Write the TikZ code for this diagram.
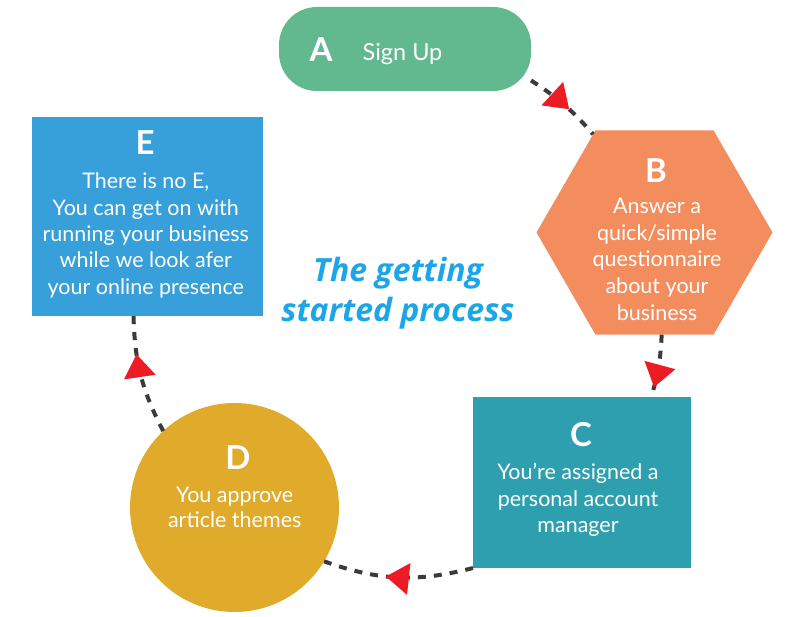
\documentclass[tikz,border=0pt]{standalone}
\usepackage{fontspec}
\setmainfont{Lato}
\newfontfamily\titlefont{Open Sans}
\usetikzlibrary{shapes.geometric,arrows.meta,decorations.markings}
\definecolor{cA}{HTML}{63B98F}
\definecolor{cB}{HTML}{F48D5E}
\definecolor{cC}{HTML}{2E9FAF}
\definecolor{cD}{HTML}{E0AA2A}
\definecolor{cE}{HTML}{379FD9}
\definecolor{cTitle}{HTML}{1BA6EA}
\definecolor{cLine}{HTML}{3B3B3B}
\definecolor{cRed}{HTML}{ED1C24}
\begin{document}
\begin{tikzpicture}[x=1bp,y=1bp,
  box/.style={draw=none, inner sep=0, outer sep=0},
  letter/.style={text=white, font=\fontsize{33bp}{36bp}\selectfont\bfseries, anchor=base, inner sep=0},
  body/.style={text=white, font=\fontsize{21.5bp}{26bp}\selectfont, anchor=base, inner sep=0},
  bigbody/.style={text=white, font=\fontsize{23.5bp}{26bp}\selectfont, anchor=base, inner sep=0},
  titletext/.style={text=cTitle, font=\titlefont\fontsize{32bp}{36bp}\selectfont\bfseries\itshape, anchor=base, inner sep=0},
  conn/.style={draw=cLine, line width=4bp, dash pattern=on 8bp off 8bp},
  tipat/.style={postaction={decorate, decoration={markings, mark=at position #1 with {\arrow[cRed, solid]{Triangle[length=23bp,width=31bp]}}}}}
]
\useasboundingbox (0,0) rectangle (800,617);

% shapes
\node[box, fill=cA, rounded corners=38bp, minimum width=252bp, minimum height=84bp] (A) at (405,568) {};
\node[box, fill=cB, regular polygon, regular polygon sides=6, minimum size=236bp] (B) at (654.5,384.5) {};
\node[box, fill=cC, rectangle, minimum width=218bp, minimum height=171bp] (C) at (582,134.5) {};
\node[box, fill=cD, circle, minimum size=209bp] (D) at (234.5,109.5) {};
\node[box, fill=cE, rectangle, minimum width=231bp, minimum height=199bp] (E) at (147.5,400.5) {};

% connectors
\draw[conn, tipat=0.58] (A.-14) to[bend left=8] (B.122);
\draw[conn, tipat=0.84] (B.-86) to[bend left=7] (C.51);
\draw[conn, tipat=0.58] (C.south west) to[bend left=17] (D.-31);
\draw[conn, tipat=0.68] (D.133) to[bend left=13] (E.-98);

% A text
\node[letter] (Aletter) at (321,555) {A};
\node[bigbody] (Atext) at (402.5,556) {Sign Up};

% B text
\node[letter] (Bletter) at (656,434.3) {B};
\node[body] (B1) at (657,403) {Answer a};
\node[body] (B2) at (657,376) {quick/simple};
\node[body] (B3) at (657,350) {questionnaire};
\node[body] (B4) at (657,323) {about your};
\node[body] (B5) at (657,296) {business};

% C text
\node[letter] (Cletter) at (581,170) {C};
\node[body] (C1) at (578,137) {You’re assigned a};
\node[body] (C2) at (578,110.5) {personal account};
\node[body] (C3) at (578,84) {manager};

% D text
\node[letter] (Dletter) at (237.8,147) {D};
\node[body] (D1) at (234.7,114) {You approve};
\node[body] (D2) at (234.7,89) {article themes};

% E text
\node[letter] (Eletter) at (145,462) {E};
\node[body] (E1) at (145.8,428) {There is no E,};
\node[body] (E2) at (145.8,401) {You can get on with};
\node[body] (E3) at (145.8,375) {running your business};
\node[body] (E4) at (145.8,349) {while we look afer};
\node[body] (E5) at (145.8,322) {your online presence};

% title
\node[titletext] (T1) at (398,335) {The getting};
\node[titletext] (T2) at (398,295) {started process};
\end{tikzpicture}
\end{document}
